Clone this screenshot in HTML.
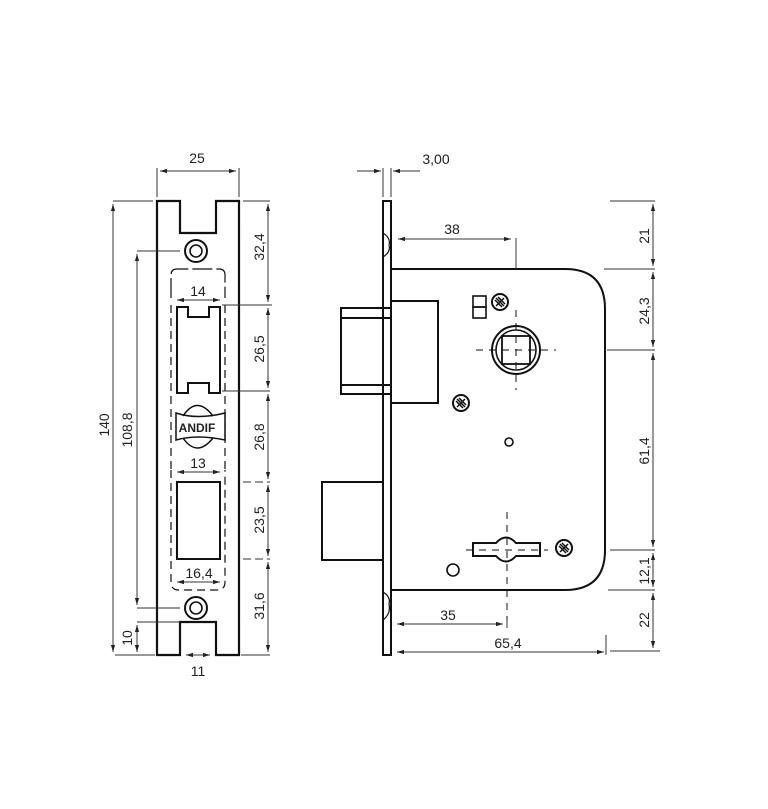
<!DOCTYPE html>
<html><head><meta charset="utf-8"><style>
html,body{margin:0;padding:0;background:#fff;}
svg{display:block;}
text{font-family:"Liberation Sans",sans-serif;font-size:14px;fill:#222;}
</style></head><body>
<svg width="768" height="809" viewBox="0 0 768 809" xmlns="http://www.w3.org/2000/svg">
<defs>
<marker id="a" viewBox="0 0 10 10" refX="10" refY="5" markerWidth="7" markerHeight="7" orient="auto-start-reverse"><path d="M0,2 L10,5 L0,8 z" fill="#222"/></marker>
<g id="screw"><circle r="8" fill="#fff" stroke="#111" stroke-width="2"/><path d="M-4,-4 L4,4 M-4,4 L4,-4 M-2,-5 L5,2 M-5,-2 L2,5" stroke="#111" stroke-width="1.5"/></g>
</defs>
<g fill="none" stroke="#111">
<!-- LEFT PLATE -->
<path d="M157,655 V201 H180 V233 H216 V201 H239 V655 H216 V622 H180 V655 Z" stroke-width="2.2"/>
<circle cx="196" cy="251" r="11" stroke-width="2"/><circle cx="196" cy="251" r="6" stroke-width="1.6"/>
<circle cx="196" cy="608" r="11" stroke-width="2"/><circle cx="196" cy="608" r="6" stroke-width="1.6"/>
<!-- window 1 -->
<path d="M177,307 H188 V317 H209 V307 H220 V393 H209 V383 H188 V393 H177 Z" stroke-width="2"/>
<!-- window 2 -->
<rect x="177" y="482" width="43" height="77" stroke-width="2"/>
<!-- dashed outlines -->
<path d="M171,298 V275 Q171,269 177,269 H219 Q225,269 225,275 V298" stroke-width="1.2" stroke-dasharray="20,4"/>
<path d="M171,305 V470 M225,305 V470" stroke-width="1.2" stroke-dasharray="8,5"/>
<path d="M171,470 V582 Q171,590 179,590 H217 Q225,590 225,582 V470" stroke-width="1.2" stroke-dasharray="8,5"/>
<!-- ANDIF logo -->
<path d="M176,413 Q197,420 225,413 V440 Q197,434 176,440 Z" stroke-width="1.5" fill="#fff"/>
<path d="M183,416 Q197,395 213,416 M183,438 Q197,458 213,438" stroke-width="1.5"/>
<!-- left dims -->
<g stroke-width="1" stroke="#333">
<path d="M157,197 V168 M239,197 V168"/>
<line x1="160" y1="171" x2="236" y2="171" marker-start="url(#a)" marker-end="url(#a)"/>
<line x1="177" y1="300" x2="220" y2="300" marker-start="url(#a)" marker-end="url(#a)"/>
<line x1="177" y1="472" x2="220" y2="472" marker-start="url(#a)" marker-end="url(#a)"/>
<line x1="177" y1="582" x2="220" y2="582" marker-start="url(#a)" marker-end="url(#a)"/>
<path d="M113,201 H153 M243,201 H270 M137,251 H180 M137,608 H180 M137,622 H180 M115,655 H155 M241,655 H270 M222,305 H272 M222,391 H270"/>
<path d="M243,482 H270 M243,559 H270" stroke-dasharray="8,4"/>
<line x1="113" y1="204" x2="113" y2="652" marker-start="url(#a)" marker-end="url(#a)"/>
<line x1="137" y1="254" x2="137" y2="605" marker-start="url(#a)" marker-end="url(#a)"/>
<line x1="137" y1="625" x2="137" y2="652" marker-start="url(#a)" marker-end="url(#a)"/>
<line x1="186" y1="655" x2="210" y2="655" marker-start="url(#a)" marker-end="url(#a)"/>
<line x1="268" y1="204" x2="268" y2="302" marker-start="url(#a)" marker-end="url(#a)"/>
<line x1="268" y1="308" x2="268" y2="388" marker-start="url(#a)" marker-end="url(#a)"/>
<line x1="268" y1="394" x2="268" y2="479" marker-start="url(#a)" marker-end="url(#a)"/>
<line x1="268" y1="485" x2="268" y2="556" marker-start="url(#a)" marker-end="url(#a)"/>
<line x1="268" y1="562" x2="268" y2="652" marker-start="url(#a)" marker-end="url(#a)"/>
</g>
<!-- RIGHT: faceplate & body -->
<rect x="383" y="201" width="8" height="454" stroke-width="2"/>
<path d="M383,233 Q391,238 389,245 M383,257 Q391,252 389,245" stroke-width="1.2"/>
<path d="M383,592 Q391,597 389,604 M383,620 Q391,614 389,604" stroke-width="1.2"/>
<path d="M391,269 H565 Q605,269 605,309 V550 Q605,590 565,590 H391" stroke-width="2"/>
<rect x="391" y="301" width="47" height="102" stroke-width="2"/>
<path d="M383,308 H341 V394 H383 M341,318 H391 M341,385 H391 M383,308 H391 M383,394 H391" stroke-width="2"/>
<rect x="322" y="482" width="61" height="78" stroke-width="2"/>
<!-- parts -->
<rect x="473" y="296" width="13" height="11" stroke-width="1.6"/><rect x="473" y="307" width="13" height="11" stroke-width="1.6"/>
<circle cx="516" cy="350" r="24" stroke-width="2"/><circle cx="516" cy="350" r="20" stroke-width="1.6"/>
<rect x="502" y="336" width="28" height="28" stroke-width="1.8"/>
<path d="M516,310 V390 M476,350 H556" stroke-width="1" stroke-dasharray="7,6"/>
<circle cx="509" cy="442" r="4" stroke-width="1.6"/>
<circle cx="453" cy="570" r="6" stroke-width="1.6"/>
<path d="M473,543 H496 Q506,532 516,543 H540 V556 H516 Q506,567 496,556 H473 Z" stroke-width="2" fill="#fff"/>
<path d="M507,512 V625 M466,550 H548" stroke-width="1" stroke-dasharray="7,6"/>
</g>
<use href="#screw" x="500" y="302"/>
<use href="#screw" x="461" y="403"/>
<use href="#screw" x="564" y="548"/>
<g fill="none" stroke="#333" stroke-width="1">
<path d="M383,197 V168 M391,197 V168 M516,238 V269 M610,201 H655 M604,269 H655 M607,350 H655 M610,550 H655 M608,590 H655 M610,651 H660 M606,635 V655 M507,620 V628"/>
<line x1="357" y1="171" x2="381" y2="171" marker-end="url(#a)"/>
<line x1="420" y1="171" x2="393" y2="171" marker-end="url(#a)"/>
<line x1="398" y1="239" x2="511" y2="239" marker-start="url(#a)" marker-end="url(#a)"/>
<line x1="397" y1="624" x2="503" y2="624" marker-start="url(#a)" marker-end="url(#a)"/>
<line x1="397" y1="652" x2="604" y2="652" marker-start="url(#a)" marker-end="url(#a)"/>
<line x1="653" y1="204" x2="653" y2="266" marker-start="url(#a)" marker-end="url(#a)"/>
<line x1="653" y1="272" x2="653" y2="347" marker-start="url(#a)" marker-end="url(#a)"/>
<line x1="653" y1="353" x2="653" y2="547" marker-start="url(#a)" marker-end="url(#a)"/>
<line x1="653" y1="553" x2="653" y2="587" marker-start="url(#a)" marker-end="url(#a)"/>
<line x1="653" y1="593" x2="653" y2="648" marker-start="url(#a)" marker-end="url(#a)"/>
</g>
<!-- texts -->
<text x="197" y="163" text-anchor="middle">25</text>
<text x="198" y="296" text-anchor="middle">14</text>
<text x="198" y="468" text-anchor="middle">13</text>
<text x="199" y="578" text-anchor="middle">16,4</text>
<text x="198" y="676" text-anchor="middle">11</text>
<text x="197" y="432" text-anchor="middle" style="font-size:12px;font-weight:bold">ANDIF</text>
<text transform="translate(109,425) rotate(-90)" text-anchor="middle">140</text>
<text transform="translate(132,430) rotate(-90)" text-anchor="middle">108,8</text>
<text transform="translate(132,638) rotate(-90)" text-anchor="middle">10</text>
<text transform="translate(264,247) rotate(-90)" text-anchor="middle">32,4</text>
<text transform="translate(264,349) rotate(-90)" text-anchor="middle">26,5</text>
<text transform="translate(264,437) rotate(-90)" text-anchor="middle">26,8</text>
<text transform="translate(264,520) rotate(-90)" text-anchor="middle">23,5</text>
<text transform="translate(264,606) rotate(-90)" text-anchor="middle">31,6</text>
<text x="436" y="164" text-anchor="middle">3,00</text>
<text x="452" y="234" text-anchor="middle">38</text>
<text x="448" y="620" text-anchor="middle">35</text>
<text x="508" y="648" text-anchor="middle">65,4</text>
<text transform="translate(649,236) rotate(-90)" text-anchor="middle">21</text>
<text transform="translate(649,311) rotate(-90)" text-anchor="middle">24,3</text>
<text transform="translate(649,451) rotate(-90)" text-anchor="middle">61,4</text>
<text transform="translate(649,571) rotate(-90)" text-anchor="middle">12,1</text>
<text transform="translate(649,620) rotate(-90)" text-anchor="middle">22</text>
</svg>
</body></html>
